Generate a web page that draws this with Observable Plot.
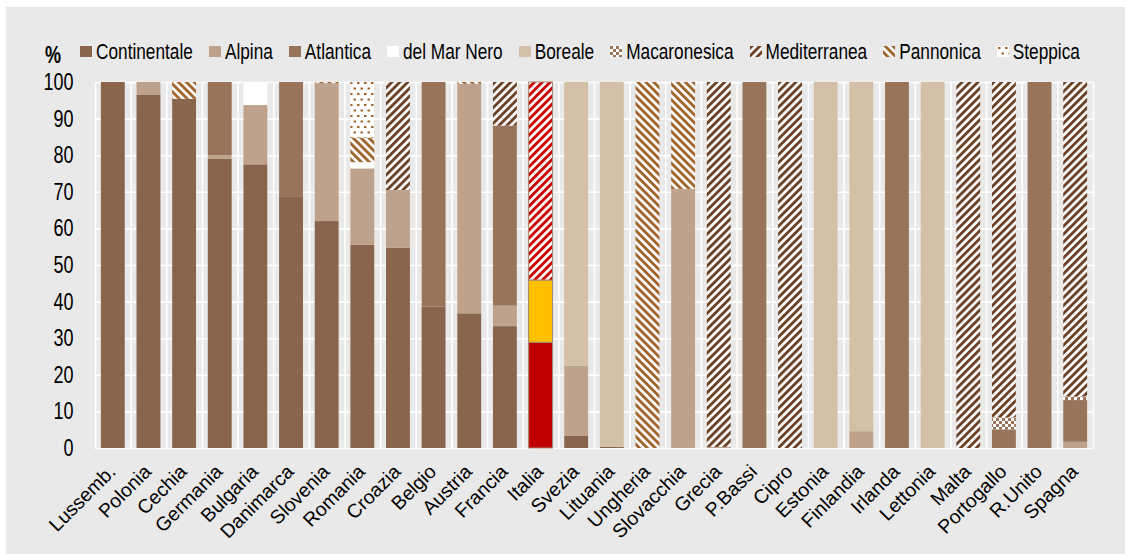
<!DOCTYPE html>
<html><head><meta charset="utf-8">
<script src="https://cdn.jsdelivr.net/npm/d3@7"></script>
<script src="https://cdn.jsdelivr.net/npm/@observablehq/plot@0.6"></script>
<style>
body{margin:0;background:#fff;font-family:"Liberation Sans",Arial,sans-serif;}
#panel{position:absolute;left:6px;top:7px;width:1119px;height:547px;background:#e9e9e9;overflow:hidden}
#pct{position:absolute;left:39px;top:38px;font-weight:bold;font-size:18px;line-height:20px;transform:scaleY(1.3);color:#000}
#legend{position:absolute;left:74px;top:34px;display:flex;align-items:center;height:20px;white-space:nowrap}
.item{display:flex;align-items:center;margin-right:16px}
.sw{width:12px;height:11px;margin-right:4px;display:block}
.lab{font-size:17.25px;line-height:20px;display:inline-block;transform:scaleY(1.29);color:#000}
#chart{position:absolute;left:0;top:63px}
</style></head>
<body>
<div id="panel">
  <div id="pct">%</div>
  <div id="legend"></div>
  <div id="chart"></div>
</div>
<script>
const countries = ["Lussemb.","Polonia","Cechia","Germania","Bulgaria","Danimarca","Slovenia","Romania","Croazia","Belgio","Austria","Francia","Italia","Svezia","Lituania","Ungheria","Slovacchia","Grecia","P.Bassi","Cipro","Estonia","Finlandia","Irlanda","Lettonia","Malta","Portogallo","R.Unito","Spagna"];
const continentale = [100,96.6,95.4,79.0,77.5,68.6,62.0,55.5,54.7,38.6,36.8,33.3,28.9,3.3,0.3,0,0,0,0,0,0,0,0,0,0,0,0,0];
const alpina       = [0,3.4,0,1.0,16.2,0,37.7,20.9,15.8,0,62.7,5.6,17.0,19.2,0,0,70.8,0.3,0,0,0,4.6,0,0,0,0,0,1.7];
const atlantica    = [0,0,0,20.0,0,31.4,0,0,0,61.4,0,49.2,0,0,0,0,0,0,100,0,0,0,100,0,0,5.1,100,11.4];
const marNero      = [0,0,0,0,6.3,0,0,1.7,0,0,0,0,0,0,0,0,0,0,0,0,0,0,0,0,0,0,0,0];
const boreale      = [0,0,0,0,0,0,0,0,0,0,0,0,0,77.5,99.7,0,0,0,0,0,100,95.4,0,100,0,0,0,0];
const macaronesica = [0,0,0,0,0,0,0,0,0,0,0,0,0,0,0,0,0,0,0,0,0,0,0,0,0,3.3,0,1.0];
const mediterranea = [0,0,0,0,0,0,0,0,29.5,0,0,11.9,54.1,0,0,0,0,99.7,0,100,0,0,0,0,100,91.6,0,85.9];
const pannonica    = [0,0,4.6,0,0,0,0.3,6.7,0,0,0.5,0,0,0,0,100,29.2,0,0,0,0,0,0,0,0,0,0,0];
const steppica     = [0,0,0,0,0,0,0,15.2,0,0,0,0,0,0,0,0,0,0,0,0,0,0,0,0,0,0,0,0];
const seriesNames  = ["Continentale","Alpina","Atlantica","del Mar Nero","Boreale","Macaronesica","Mediterranea","Pannonica","Steppica"];
const seriesFills  = ["#88654c","#bfa28b","#98755a","#ffffff","#d3c0a6","url(#p-mac)","url(#p-med)","url(#p-pan)","url(#p-stp)"];
const italyNames   = ["Continentale","Alpina","Mediterranea"];
const italyFills   = ["#c00000","#ffc000","url(#p-med-it)"];
const yTicks = [0,10,20,30,40,50,60,70,80,90,100];

const seriesValues = [continentale,alpina,atlantica,marNero,boreale,macaronesica,mediterranea,pannonica,steppica];
const rows = [];
countries.forEach((c,i)=>seriesNames.forEach((s,j)=>{
  const v = seriesValues[j][i];
  if (v>0) {
    const k = italyNames.indexOf(s);
    rows.push({country:c, series:s, value:v, fill:(c==="Italia" && k>=0) ? italyFills[k] : seriesFills[j], stroke: c==="Italia" ? "#a38771" : "none"});
  }
}));

const W=1119,H=484,ML=89,MR=32,MT=12,MB=106;
const step=(W-ML-MR)/countries.length;

const plot = Plot.plot({
  width:W,height:H,marginLeft:ML,marginRight:MR,marginTop:MT,marginBottom:MB,
  style:{background:"transparent",fontFamily:"Liberation Sans, Arial, sans-serif",color:"#000"},
  x:{domain:countries,paddingInner:0.33,paddingOuter:0.165,align:0.5,round:false,label:null},
  y:{domain:[0,100],label:null},
  color:{type:"identity"},
  marks:[
    Plot.gridY(yTicks,{stroke:"#fff",strokeOpacity:1,strokeWidth:1.6}),
    Plot.ruleX(countries,{x:d=>d,dx:step/2,y1:0,y2:100,stroke:"#fff",strokeWidth:1.6}),
    Plot.ruleX(countries.slice(0,1),{x:d=>d,dx:-step/2,y1:0,y2:100,stroke:"#fff",strokeWidth:1.6}),
    Plot.barY(rows,Plot.stackY({x:"country",y:"value",z:"series",order:seriesNames,fill:"fill",stroke:"stroke",strokeWidth:1})),
    Plot.axisY(yTicks,{tickSize:0,tickPadding:22,fontSize:18}),
    Plot.axisX({tickSize:0,tickPadding:20,dx:-1,tickRotate:-45,fontSize:19.5})
  ]
});

const ns="http://www.w3.org/2000/svg";
const defs=document.createElementNS(ns,"defs");
defs.innerHTML=`
<pattern id="p-med" patternUnits="userSpaceOnUse" width="5.6" height="5.6" patternTransform="rotate(45)">
 <rect width="5.6" height="5.6" fill="#fff"/><rect width="2.9" height="5.6" fill="#6b4226"/></pattern>
<pattern id="p-med-it" patternUnits="userSpaceOnUse" width="5.6" height="5.6" patternTransform="rotate(45)">
 <rect width="5.6" height="5.6" fill="#fff"/><rect width="2.9" height="5.6" fill="#cc0000"/></pattern>
<pattern id="p-pan" patternUnits="userSpaceOnUse" width="5.6" height="5.6" patternTransform="rotate(-45)">
 <rect width="5.6" height="5.6" fill="#fff"/><rect width="2.9" height="5.6" fill="#a0652d"/></pattern>
<pattern id="p-stp" patternUnits="userSpaceOnUse" width="7" height="11">
 <rect width="7" height="11" fill="#fff"/><rect x="1" y="1" width="2.5" height="2" fill="#a0652d"/><rect x="4.5" y="6.5" width="2.5" height="2" fill="#a0652d"/></pattern>
<pattern id="p-mac" patternUnits="userSpaceOnUse" width="6" height="6">
 <rect width="6" height="6" fill="#fff"/><rect width="3" height="3" fill="#98755a"/><rect x="3" y="3" width="3" height="3" fill="#98755a"/></pattern>`;
plot.prepend(defs);

// vertical stretch of the y tick labels (as in the reference)
const K=1.3;
plot.querySelectorAll('g[aria-label="y-axis tick label"] text').forEach(t=>{
  const tr=t.getAttribute("transform");
  const m=tr && tr.match(/^\s*translate\(\s*([-\d.e]+)[ ,]+([-\d.e]+)\s*\)(.*)$/);
  if (m) t.setAttribute("transform",`translate(${m[1]},${m[2]}) scale(1,${K})${m[3]}`);
  else {
    const x=+t.getAttribute("x")||0, y=+t.getAttribute("y")||0;
    t.setAttribute("transform",`translate(${x},${y}) scale(1,${K}) translate(${-x},${-y})`);
  }
});
document.getElementById("chart").appendChild(plot);

const legend=document.getElementById("legend");
seriesNames.forEach((s,j)=>{
  const it=document.createElement("div"); it.className="item";
  it.innerHTML=`<svg class="sw" width="12" height="11"><rect width="12" height="11" fill="${seriesFills[j]}"/></svg><span class="lab">${s}</span>`;
  legend.appendChild(it);
});
</script>
</body></html>
